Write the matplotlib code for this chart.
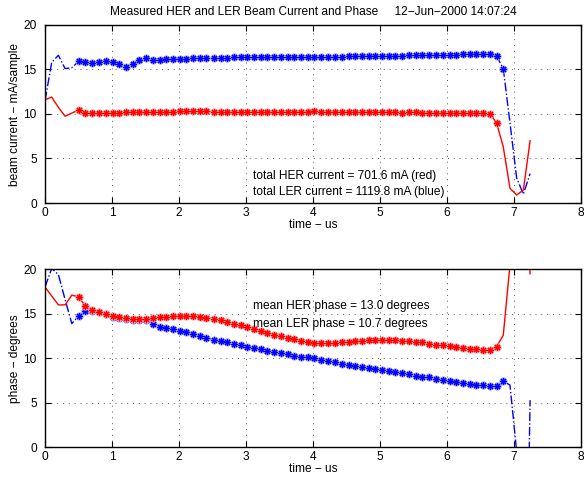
"""Measured HER and LER beam current and phase, 12-Jun-2000 14:07:24."""
import matplotlib

matplotlib.use("Agg")
import matplotlib.pyplot as plt

plt.rcParams["font.family"] = ["Liberation Sans", "DejaVu Sans"]
plt.rcParams["font.size"] = 8.6

RED, BLUE = "#ff0000", "#0000ff"
RED_HALO, BLUE_HALO = "#ffa0a0", "#a0a0ff"
ASTERISK = (8, 2, 0)

# sample times (us)
t_us = [0.00, 0.10, 0.20, 0.30, 0.40, 0.50, 0.60, 0.70, 0.80, 0.91, 1.01, 1.11,
        1.21, 1.31, 1.41, 1.51, 1.61, 1.71, 1.81, 1.91, 2.01, 2.11, 2.21, 2.31,
        2.41, 2.52, 2.62, 2.72, 2.82, 2.92, 3.02, 3.12, 3.22, 3.32, 3.42, 3.52,
        3.62, 3.72, 3.82, 3.92, 4.02, 4.12, 4.23, 4.33, 4.43, 4.53, 4.63, 4.73,
        4.83, 4.93, 5.03, 5.13, 5.23, 5.33, 5.43, 5.53, 5.63, 5.73, 5.84, 5.94,
        6.04, 6.14, 6.24, 6.34, 6.44, 6.54, 6.64, 6.74, 6.84, 6.94, 7.04, 7.14,
        7.24]

# beam current, mA/sample
her_current = [11.6, 11.9, 10.75, 9.75, 10.1, 10.45, 10.15, 10.1, 10.15, 10.15, 10.1, 10.15,
               10.2, 10.2, 10.2, 10.25, 10.2, 10.2, 10.25, 10.25, 10.3, 10.35, 10.3, 10.3,
               10.3, 10.25, 10.25, 10.25, 10.25, 10.25, 10.2, 10.25, 10.25, 10.2, 10.2, 10.2,
               10.2, 10.25, 10.2, 10.25, 10.3, 10.25, 10.2, 10.2, 10.25, 10.2, 10.2, 10.2,
               10.2, 10.2, 10.2, 10.2, 10.2, 10.15, 10.2, 10.2, 10.15, 10.15, 10.15, 10.15,
               10.15, 10.1, 10.1, 10.1, 10.1, 10.1, 10.05, 9.0, 6.3, 1.65, 0.9, 1.45,
               7.0]
ler_current = [11.5, 15.8, 16.6, 15.1, 15.2, 15.9, 15.85, 15.7, 15.8, 15.95, 15.85, 15.6,
               15.25, 15.6, 16.1, 16.25, 16.1, 16.05, 16.15, 16.15, 16.2, 16.2, 16.25, 16.25,
               16.3, 16.3, 16.3, 16.3, 16.35, 16.35, 16.35, 16.35, 16.35, 16.35, 16.4, 16.4,
               16.4, 16.4, 16.4, 16.45, 16.45, 16.45, 16.45, 16.45, 16.45, 16.5, 16.5, 16.5,
               16.5, 16.5, 16.5, 16.55, 16.55, 16.55, 16.6, 16.6, 16.65, 16.65, 16.65, 16.65,
               16.65, 16.65, 16.7, 16.7, 16.7, 16.75, 16.7, 16.5, 15.1, 9.0, 2.8, 1.0,
               3.3]

# phase, degrees
her_phase = [18.0, 17.0, 16.0, 16.0, 17.1, 16.9, 15.9, 15.4, 15.25, 15.0, 14.75, 14.6,
             14.5, 14.45, 14.4, 14.45, 14.5, 14.6, 14.65, 14.7, 14.75, 14.75, 14.7, 14.65,
             14.55, 14.45, 14.3, 14.1, 13.9, 13.7, 13.5, 13.25, 13.05, 12.85, 12.65, 12.45,
             12.3, 12.15, 12.0, 11.85, 11.75, 11.7, 11.7, 11.75, 11.8, 11.85, 11.95, 12.0,
             12.05, 12.1, 12.1, 12.1, 12.05, 12.0, 11.95, 11.85, 11.8, 11.65, 11.55, 11.45,
             11.35, 11.25, 11.15, 11.05, 11.0, 10.95, 10.9, 11.3, 12.6, 20.5, 45.0, 50.0,
             19.5]
ler_phase = [18.0, 20.1, 19.4, 16.6, 13.9, 14.75, 15.35, 15.35, 15.2, 14.95, 14.65, 14.5,
             14.4, 14.35, 14.35, 14.35, 13.9, 13.5, 13.4, 13.25, 13.05, 12.9, 12.7, 12.5,
             12.3, 12.1, 11.95, 11.8, 11.6, 11.45, 11.3, 11.15, 11.0, 10.85, 10.7, 10.6,
             10.45, 10.3, 10.2, 10.1, 10.0, 9.85, 9.7, 9.55, 9.4, 9.25, 9.1, 9.0,
             8.9, 8.75, 8.65, 8.55, 8.45, 8.35, 8.2, 8.05, 7.95, 7.85, 7.7, 7.6,
             7.45, 7.35, 7.25, 7.1, 7.0, 6.95, 6.9, 6.9, 7.4, 7.0, -0.5, -40.0,
             5.3]

# samples flagged valid (drawn with markers)
HER_VALID = slice(5, 68)
LER_VALID = slice(5, 69)

TITLE = "Measured HER and LER Beam Current and Phase     12\u2212Jun\u22122000 14:07:24"
XLABEL = "time \u2212 us"
current_notes = ["total HER current = 701.6 mA (red)", "total LER current = 1119.8 mA (blue)"]
phase_notes = ["mean HER phase = 13.0 degrees", "mean LER phase = 10.7 degrees"]


def _trace(ax, y, color, halo, style, valid):
    ax.plot(t_us, y, style, color=color, linewidth=1.0)
    tv, yv = t_us[valid], y[valid]
    ax.plot(tv, yv, linestyle="none", marker=ASTERISK, markersize=5.5,
            markeredgewidth=1.8, color=halo)
    ax.plot(tv, yv, linestyle="none", marker=ASTERISK, markersize=5,
            markeredgewidth=0.8, color=color)


def _matlab_axes(ax, ylabel):
    ax.set_xlim(0, 8)
    ax.set_ylim(0, 20)
    ax.set_xticks(range(0, 9))
    ax.set_yticks(range(0, 21, 5))
    ax.tick_params(direction="in", length=4, width=0.8, top=True, right=True,
                   labelsize=8.6, pad=3)
    ax.tick_params(axis="y", pad=6)
    ax.grid(True, linestyle=(0, (1, 5)), color="0.35", linewidth=0.7)
    for s in ax.spines.values():
        s.set_linewidth(1.0)
    ax.set_xlabel(XLABEL, labelpad=0)
    ax.set_ylabel(ylabel, labelpad=1.5)


fig = plt.figure(figsize=(5.87, 4.79), dpi=100)
ax1 = fig.add_axes([45 / 587, 1 - 203 / 479, 536 / 587, 178 / 479])
ax2 = fig.add_axes([45 / 587, 1 - 447.3 / 479, 536 / 587, 178 / 479])

_trace(ax1, ler_current, BLUE, BLUE_HALO, "-.", LER_VALID)
_trace(ax1, her_current, RED, RED_HALO, "-", HER_VALID)
_matlab_axes(ax1, "beam current \u2212 mA/sample")
ax1.set_title(TITLE, fontsize=8.6, pad=7)
ax1.text(3.1, 3.0, current_notes[0], va="center")
ax1.text(3.1, 1.2, current_notes[1], va="center")

_trace(ax2, ler_phase, BLUE, BLUE_HALO, "-.", LER_VALID)
_trace(ax2, her_phase, RED, RED_HALO, "-", HER_VALID)
_matlab_axes(ax2, "phase \u2212 degrees")
ax2.text(3.1, 15.9, phase_notes[0], va="center")
ax2.text(3.1, 13.9, phase_notes[1], va="center")

fig.savefig("out.png", dpi=100)
